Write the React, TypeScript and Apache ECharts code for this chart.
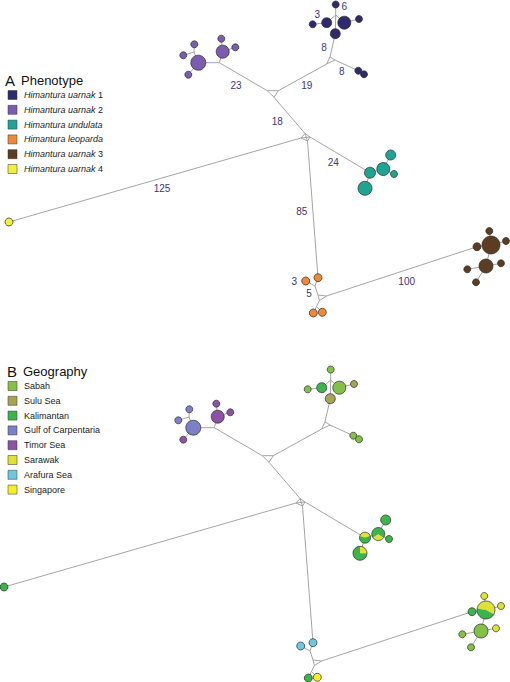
import React, { useEffect, useRef } from "react";
import * as echarts from "echarts";

const FONT = '"Liberation Sans", Arial, Helvetica, sans-serif';

// ---------- legend categories ----------
const phenotypeNames = ["uarnak1", "uarnak2", "undulata", "leoparda", "uarnak3", "uarnak4"];
const phenotypeLabels: [string, string][] = [
  ["Himantura uarnak", " 1"],
  ["Himantura uarnak", " 2"],
  ["Himantura undulata", ""],
  ["Himantura leoparda", ""],
  ["Himantura uarnak", " 3"],
  ["Himantura uarnak", " 4"],
];
const phenotypeColors = ["#2e2a6c", "#7a5cb1", "#1fa493", "#f0883a", "#5c3d22", "#f3ee3c"];

const geographyNames = ["Sabah", "Sulu Sea", "Kalimantan", "Gulf of Carpentaria", "Timor Sea", "Sarawak", "Arafura Sea", "Singapore"];
const geographyColors = ["#82c145", "#a5a456", "#3cb44b", "#7c80c8", "#8e52a5", "#dde235", "#6ec8dc", "#f6ec2b"];

// ---------- haplotypes (network coordinates of panel A) ----------
const hapNames = [
  "d_top", "d_big6", "d_right", "d_left", "d_m3", "d_bottom", "d_r1", "d_r2",
  "p_big", "p_med", "p_top", "p_right", "p_tl", "p_fl", "p_bl",
  "t1", "t2", "t3", "t4", "t5",
  "o_a", "o_b", "o_c", "o_d",
  "b_big", "b_right", "b_top", "b_left", "b_big2", "b_r2", "b_l2", "b_bot",
  "y",
];
const hapX = [
  335.7, 344.3, 359, 312.7, 326.7, 335.3, 358.3, 364,
  198.3, 222.7, 221.3, 235.3, 194.3, 183.3, 188.3,
  370, 383.3, 390.7, 394, 365,
  318, 305.7, 313.3, 322.3,
  491, 506, 489.3, 477, 486, 501, 467.3, 476,
  9,
];
const hapY = [
  4.5, 22.7, 19, 24.3, 22.7, 33.7, 70.7, 74.3,
  62.7, 51.7, 38.7, 47.3, 44.3, 55.3, 74.7,
  172.7, 169, 155, 174, 188.3,
  277.7, 281, 313, 312.3,
  245, 241, 231, 246.7, 266, 263.3, 269.3, 282.3,
  222,
];
// number of sequences ~ drawn radius
const hapSize = [
  3.5, 6.5, 3.5, 3.5, 5, 5, 3.5, 3.5,
  7.5, 6.5, 3.5, 3.5, 3.5, 3.5, 3.5,
  5.5, 6.5, 5, 3.5, 7,
  4, 4, 4, 4,
  9, 3.5, 3.5, 4, 7, 3.5, 3.5, 3.5,
  4,
];
const hapPhenotype = [
  0, 0, 0, 0, 0, 0, 0, 0,
  1, 1, 1, 1, 1, 1, 1,
  2, 2, 2, 2, 2,
  3, 3, 3, 3,
  4, 4, 4, 4, 4, 4, 4, 4,
  5,
];
// geography composition: [category index, fraction][]
const hapGeography: [number, number][][] = [
  [[0, 1]], [[0, 1]], [[1, 1]], [[0, 1]], [[2, 1]], [[1, 1]], [[0, 1]], [[0, 1]],
  [[3, 1]], [[4, 1]], [[4, 1]], [[4, 1]], [[3, 1]], [[3, 1]], [[4, 1]],
  [[5, 0.4], [2, 0.6]], [[5, 0.3], [2, 0.7]], [[2, 1]], [[2, 1]], [[5, 0.25], [2, 0.75]],
  [[6, 1]], [[6, 1]], [[2, 1]], [[7, 1]],
  [[5, 0.55], [2, 0.45]], [[5, 1]], [[5, 1]], [[2, 1]], [[0, 1]], [[5, 1]], [[0, 1]], [[0, 1]],
  [[2, 1]],
];
const pieStartDeg: Record<string, number> = { t1: -162, t2: 36, t5: -90, b_big: -170 };

// ---------- median vectors / junctions ----------
const junctionNames = ["dJ", "dT1", "dT2", "dT3", "mT1", "mT2", "mT3", "pJ", "pJ2", "c1", "c2", "c3", "c4", "oJ1", "oT1", "oT2", "oT3", "oJ2"];
const junctionX = [335.7, 330, 335, 326.7, 267.3, 278.3, 274, 219.3, 194, 301, 305, 310, 307.5, 315, 318, 326.5, 319.5, 316.5];
const junctionY = [15, 56.7, 60, 64, 90.7, 90.7, 97.3, 62.7, 52, 138, 133.5, 137, 141, 286, 295, 296, 300.5, 306.5];

const edges: [string, string][] = [
  ["dJ", "d_top"], ["dJ", "d_m3"], ["dJ", "d_big6"], ["dJ", "d_bottom"], ["d_m3", "d_left"], ["d_big6", "d_right"],
  ["d_bottom", "dT1"], ["dT1", "dT2"], ["dT2", "dT3"], ["dT3", "dT1"], ["dT2", "d_r1"], ["d_r1", "d_r2"],
  ["dT3", "mT2"], ["mT1", "mT2"], ["mT2", "mT3"], ["mT3", "mT1"],
  ["pJ", "mT1"], ["pJ", "p_big"], ["pJ", "p_med"], ["p_med", "p_top"], ["p_med", "p_right"],
  ["p_big", "pJ2"], ["pJ2", "p_tl"], ["pJ2", "p_fl"], ["p_big", "p_bl"],
  ["mT3", "c2"], ["c1", "c2"], ["c2", "c3"], ["c3", "c4"], ["c4", "c1"], ["c1", "c3"], ["c2", "c4"],
  ["c1", "y"], ["c3", "t1"], ["t1", "t2"], ["t2", "t3"], ["t2", "t4"], ["t1", "t5"],
  ["c4", "o_a"], ["o_a", "oJ1"], ["oJ1", "o_b"], ["oJ1", "oT1"], ["oT1", "oT2"], ["oT2", "oT3"], ["oT3", "oT1"],
  ["oT3", "oJ2"], ["oJ2", "o_c"], ["oJ2", "o_d"],
  ["oT2", "b_left"], ["b_left", "b_big"], ["b_big", "b_top"], ["b_big", "b_right"], ["b_big", "b_big2"],
  ["b_big2", "b_r2"], ["b_big2", "b_l2"], ["b_big2", "b_bot"],
];

// ---------- mutation-step labels ----------
const stepLabels = ["125", "85", "24", "18", "23", "19", "8", "8", "3", "6", "3", "5", "100"];
const stepLabelX = [162, 301.7, 333.3, 277.3, 236, 306.7, 324, 341.7, 317.3, 344.3, 294.3, 309, 406.7];
const stepLabelY = [188, 211.7, 162.7, 121.7, 85.7, 85.7, 47.7, 71.7, 14, 6.7, 281, 293.3, 281];

// ---------- panel B offset (network redrawn below) ----------
const PANEL_B_DX = -5;
const PANEL_B_DY = 365;

function buildOption() {
  const pos: Record<string, [number, number]> = {};
  hapNames.forEach((n, i) => (pos[n] = [hapX[i], hapY[i]]));
  junctionNames.forEach((n, i) => (pos[n] = [junctionX[i], junctionY[i]]));

  const edgeData = edges.map(([a, b]) => [pos[a][0], pos[a][1], pos[b][0], pos[b][1]]);
  const nodeData = hapNames.map((_, i) => [hapX[i], hapY[i], i]);
  const labelData = stepLabels.map((_, i) => [stepLabelX[i], stepLabelY[i], i]);

  const edgeRender = (params: any, api: any) => {
    const p1 = api.coord([api.value(0), api.value(1)]);
    const p2 = api.coord([api.value(2), api.value(3)]);
    return {
      type: "line",
      shape: { x1: p1[0], y1: p1[1], x2: p2[0], y2: p2[1] },
      style: { stroke: "#9b9b9b", lineWidth: 0.9, fill: null },
    };
  };

  const nodeRenderA = (params: any, api: any) => {
    const i = api.value(2);
    const c = api.coord([api.value(0), api.value(1)]);
    return {
      type: "circle",
      shape: { cx: c[0], cy: c[1], r: hapSize[i] },
      style: { fill: phenotypeColors[hapPhenotype[i]], stroke: "#2b2b2b", lineWidth: 0.7 },
    };
  };

  const nodeRenderB = (params: any, api: any) => {
    const i = api.value(2);
    const c = api.coord([api.value(0), api.value(1)]);
    const r = hapSize[i];
    let a = ((pieStartDeg[hapNames[i]] ?? -90) * Math.PI) / 180;
    const children: any[] = hapGeography[i].map(([cat, f]) => {
      const s = a;
      a += f * Math.PI * 2;
      return {
        type: "sector",
        shape: { cx: c[0], cy: c[1], r, r0: 0, startAngle: s, endAngle: a, clockwise: true },
        style: { fill: geographyColors[cat] },
      };
    });
    children.push({
      type: "circle",
      shape: { cx: c[0], cy: c[1], r },
      style: { fill: null, stroke: "#2b2b2b", lineWidth: 0.7 },
    });
    return { type: "group", children };
  };

  const labelRender = (params: any, api: any) => {
    const i = api.value(2);
    const c = api.coord([api.value(0), api.value(1)]);
    return {
      type: "text",
      x: c[0],
      y: c[1],
      style: {
        text: stepLabels[i],
        fill: "#3b3775",
        fontSize: 10,
        fontFamily: FONT,
        align: "center",
        verticalAlign: "middle",
      },
    };
  };

  const graphic: any[] = [];
  const legendRowH = 14.8;
  // Legend A
  graphic.push({ type: "text", x: 5, y: 80.7, style: { text: "A", fontSize: 15, fontFamily: FONT, fill: "#111", verticalAlign: "middle" } });
  graphic.push({ type: "text", x: 21, y: 80.7, style: { text: "Phenotype", fontSize: 13, fontFamily: FONT, fill: "#111", verticalAlign: "middle" } });
  phenotypeNames.forEach((_, i) => {
    const cy = 95 + i * legendRowH;
    graphic.push({ type: "rect", shape: { x: 8, y: cy - 4.5, width: 9, height: 9 }, style: { fill: phenotypeColors[i], stroke: "#333", lineWidth: 0.5 } });
    const [it, rest] = phenotypeLabels[i];
    graphic.push({
      type: "text",
      x: 24,
      y: cy,
      style: {
        text: `{i|${it}}${rest}`,
        fontSize: 9,
        fontFamily: FONT,
        fill: "#222",
        verticalAlign: "middle",
        rich: { i: { fontStyle: "italic", fontSize: 9, fontFamily: FONT, fill: "#222" } },
      },
    });
  });
  // Legend B
  graphic.push({ type: "text", x: 7, y: 371.7, style: { text: "B", fontSize: 15, fontFamily: FONT, fill: "#111", verticalAlign: "middle" } });
  graphic.push({ type: "text", x: 23, y: 371.7, style: { text: "Geography", fontSize: 13, fontFamily: FONT, fill: "#111", verticalAlign: "middle" } });
  geographyNames.forEach((name, i) => {
    const cy = 386 + i * legendRowH;
    graphic.push({ type: "rect", shape: { x: 8, y: cy - 4.5, width: 9, height: 9 }, style: { fill: geographyColors[i], stroke: "#333", lineWidth: 0.5 } });
    graphic.push({ type: "text", x: 24, y: cy, style: { text: name, fontSize: 9, fontFamily: FONT, fill: "#222", verticalAlign: "middle" } });
  });

  return {
    animation: false,
    backgroundColor: "#ffffff",
    grid: [
      { left: 0, top: 0, width: 510, height: 682 },
      { left: 0, top: 0, width: 510, height: 682 },
    ],
    xAxis: [
      { type: "value", gridIndex: 0, min: 0, max: 510, show: false },
      { type: "value", gridIndex: 1, min: -PANEL_B_DX, max: 510 - PANEL_B_DX, show: false },
    ],
    yAxis: [
      { type: "value", gridIndex: 0, min: 0, max: 682, inverse: true, show: false },
      { type: "value", gridIndex: 1, min: -PANEL_B_DY, max: 682 - PANEL_B_DY, inverse: true, show: false },
    ],
    graphic,
    series: [
      { type: "custom", xAxisIndex: 0, yAxisIndex: 0, z: 1, data: edgeData, renderItem: edgeRender, silent: true },
      { type: "custom", xAxisIndex: 1, yAxisIndex: 1, z: 1, data: edgeData, renderItem: edgeRender, silent: true },
      { type: "custom", xAxisIndex: 0, yAxisIndex: 0, z: 2, data: nodeData, renderItem: nodeRenderA, silent: true },
      { type: "custom", xAxisIndex: 1, yAxisIndex: 1, z: 2, data: nodeData, renderItem: nodeRenderB, silent: true },
      { type: "custom", xAxisIndex: 0, yAxisIndex: 0, z: 3, data: labelData, renderItem: labelRender, silent: true },
    ],
  };
}

export default function App() {
  const ref = useRef<HTMLDivElement>(null);
  useEffect(() => {
    if (!ref.current) return;
    const chart = echarts.init(ref.current, undefined, { renderer: "svg" });
    chart.setOption(buildOption() as any);
    return () => chart.dispose();
  }, []);
  return (
    <div
      ref={ref}
      style={{ position: "absolute", left: 0, top: 0, width: 510, height: 682, background: "#fff" }}
    />
  );
}
